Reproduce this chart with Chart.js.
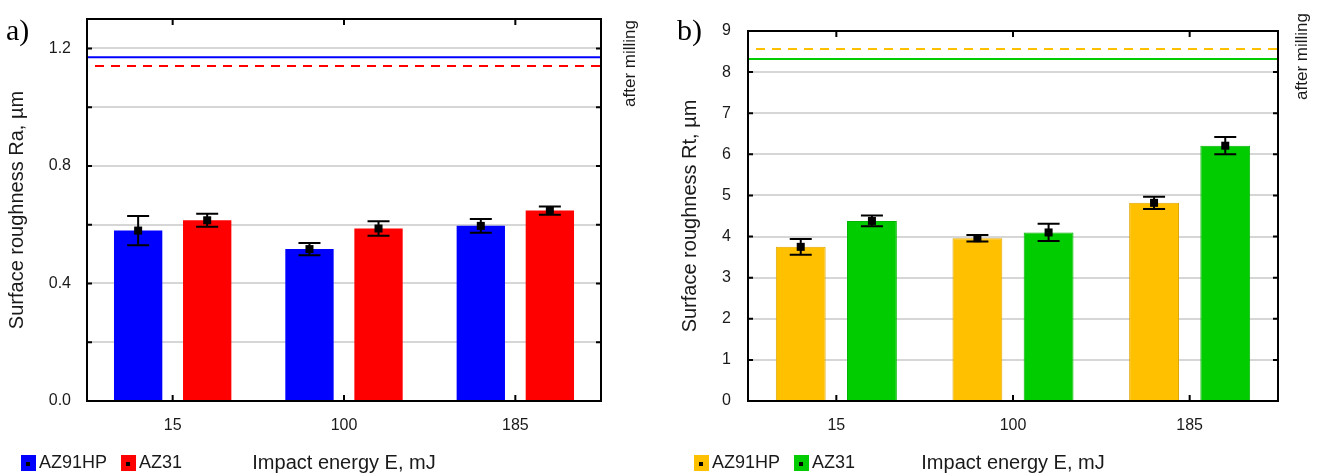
<!DOCTYPE html>
<html>
<head>
<meta charset="utf-8">
<script src="https://cdn.jsdelivr.net/npm/chart.js@4.4.1/dist/chart.umd.min.js"></script>
<style>
  body { margin: 0; background: #fff; }
  #wrap { position: relative; width: 1318px; height: 474px; }
  canvas { position: absolute; top: 0; }
  #chartA { left: 0; }
  #chartB { left: 659px; }
</style>
</head>
<body>
<div id="wrap">
  <canvas id="chartA" width="659" height="474"></canvas>
  <canvas id="chartB" width="659" height="474"></canvas>
</div>
<script>
// categories
const energies = ["15", "100", "185"];
const alloys = ["AZ91HP", "AZ31"];

// a) Ra
const raAZ91HP = [0.58, 0.517, 0.596];
const raAZ31 = [0.615, 0.587, 0.648];
const raErrAZ91HP = [0.05, 0.021, 0.023];
const raErrAZ31 = [0.022, 0.025, 0.014];
const raMilled = [1.17, 1.14]; // AZ91HP, AZ31 after milling

// b) Rt
const rtAZ91HP = [3.75, 3.96, 4.82];
const rtAZ31 = [4.38, 4.10, 6.21];
const rtErrAZ91HP = [0.19, 0.08, 0.15];
const rtErrAZ31 = [0.13, 0.21, 0.21];
const rtMilled = [8.56, 8.32];

const FONT = "'Liberation Sans', Arial, sans-serif";
Chart.defaults.font.family = FONT;
Chart.defaults.color = "#1a1a1a";

// frame round the plot + inward tick marks
const frameTicks = {
  id: "frameTicks",
  afterDatasetsDraw(chart) {
    const { ctx, chartArea: a, scales: { x, y } } = chart;
    ctx.save();
    ctx.strokeStyle = "#000";
    ctx.lineWidth = 2;
    ctx.beginPath();
    y.ticks.forEach(t => {
      const py = y.getPixelForValue(t.value);
      if (py <= a.top + 1 || py >= a.bottom - 1) return;
      ctx.moveTo(a.left, py); ctx.lineTo(a.left + 5, py);
      ctx.moveTo(a.right, py); ctx.lineTo(a.right - 5, py);
    });
    x.ticks.forEach((t, i) => {
      const px = x.getPixelForTick(i);
      ctx.moveTo(px, a.bottom); ctx.lineTo(px, a.bottom - 6);
      ctx.moveTo(px, a.top); ctx.lineTo(px, a.top + 6);
    });
    ctx.stroke();
    ctx.strokeRect(a.left, a.top, a.right - a.left, a.bottom - a.top);
    ctx.restore();
  }
};

// error bars with the mean marker
const errorBars = {
  id: "errorBars",
  afterDatasetsDraw(chart, args, opts) {
    const { ctx, scales: { y } } = chart;
    ctx.save();
    ctx.strokeStyle = "#000";
    ctx.fillStyle = "#000";
    ctx.lineWidth = 2;
    chart.data.datasets.forEach((ds, di) => {
      const meta = chart.getDatasetMeta(di);
      const errs = opts.errors[di];
      meta.data.forEach((bar, i) => {
        const v = ds.data[i];
        const top = y.getPixelForValue(v + errs[i]);
        const bot = y.getPixelForValue(v - errs[i]);
        const cx = bar.x;
        ctx.beginPath();
        ctx.moveTo(cx, top); ctx.lineTo(cx, bot);
        ctx.moveTo(cx - 11, top); ctx.lineTo(cx + 11, top);
        ctx.moveTo(cx - 11, bot); ctx.lineTo(cx + 11, bot);
        ctx.stroke();
        const my = y.getPixelForValue(v);
        ctx.fillRect(cx - 4, my - 4, 8, 8);
      });
    });
    ctx.restore();
  }
};

// "after milling" reference lines, panel letter, legend
const extras = {
  id: "extras",
  beforeDatasetsDraw(chart, args, opts) {
    const { ctx, chartArea: a, scales: { y } } = chart;
    ctx.save();
    opts.lines.forEach(l => {
      const py = y.getPixelForValue(l.value);
      ctx.strokeStyle = l.color;
      ctx.lineWidth = 2;
      ctx.setLineDash(l.dash ? [9, 7] : []);
      ctx.beginPath();
      ctx.moveTo(a.left + (l.dash ? 8 : 0), py);
      ctx.lineTo(a.right, py);
      ctx.stroke();
    });
    ctx.restore();
  },
  afterDraw(chart, args, opts) {
    const { ctx } = chart;
    ctx.save();
    ctx.fillStyle = "#1a1a1a";
    // rotated note
    ctx.translate(opts.noteX, opts.noteY);
    ctx.rotate(-Math.PI / 2);
    ctx.font = "17px " + FONT;
    ctx.textAlign = "right";
    ctx.textBaseline = "middle";
    ctx.fillText("after milling", 0, 0);
    ctx.restore();

    ctx.save();
    ctx.fillStyle = "#000";
    ctx.font = "30px 'Liberation Serif', 'Times New Roman', serif";
    ctx.textBaseline = "alphabetic";
    ctx.fillText(opts.letter, opts.letterX, 40);

    // legend
    ctx.font = "18px " + FONT;
    ctx.textBaseline = "middle";
    let lx = opts.legendX;
    const ly = 463;
    chart.data.datasets.forEach(ds => {
      ctx.fillStyle = ds.backgroundColor;
      ctx.fillRect(lx, ly - 8, 15, 16);
      ctx.fillStyle = "#000";
      ctx.fillRect(lx + 5, ly - 1, 4, 4);
      ctx.fillStyle = "#1a1a1a";
      ctx.fillText(ds.label, lx + 18, ly);
      lx += 18 + ctx.measureText(ds.label).width + 14;
    });
    ctx.restore();
  }
};

function makeChart(id, p) {
  return new Chart(document.getElementById(id), {
    type: "bar",
    data: {
      labels: energies,
      datasets: [
        { label: alloys[0], data: p.a, backgroundColor: p.colors[0], borderColor: p.borders[0], borderWidth: p.borderWidth },
        { label: alloys[1], data: p.b, backgroundColor: p.colors[1], borderColor: p.borders[1], borderWidth: p.borderWidth }
      ]
    },
    options: {
      responsive: false,
      animation: false,
      devicePixelRatio: 1,
      categoryPercentage: 0.806,
      barPercentage: 0.7,
      layout: { padding: { left: 0, top: p.top, right: p.right, bottom: 0 } },
      plugins: {
        legend: { display: false },
        tooltip: { enabled: false },
        errorBars: { errors: p.errs },
        extras: p.extras
      },
      scales: {
        x: {
          grid: { display: false, drawTicks: false },
          border: { display: false },
          ticks: { padding: 15, font: { size: 16 } },
          title: { display: true, text: "Impact energy E, mJ", font: { size: 20, lineHeight: 1 }, padding: { top: 0, bottom: 1 } },
          afterFit: s => { s.height = 73; }
        },
        y: {
          min: 0,
          max: p.max,
          grid: { color: "#d6d6d6", lineWidth: 2, drawTicks: false },
          border: { display: false },
          ticks: {
            stepSize: p.step,
            includeBounds: false,
            padding: p.tickPad,
            font: { size: 16 },
            callback: p.fmt
          },
          title: { display: true, text: p.yTitle, font: { size: 20, lineHeight: 1.2 }, padding: { top: p.titlePad, bottom: 0 } },
          afterFit: s => {
            s.width = p.left;
            s.paddingTop = 0;
            s.paddingBottom = 0;
          }
        }
      }
    },
    plugins: [extras, errorBars, frameTicks]
  });
}

makeChart("chartA", {
  a: raAZ91HP, b: raAZ31, errs: [raErrAZ91HP, raErrAZ31],
  colors: ["#0000ff", "#ff0000"], borders: ["#0000ff", "#ff0000"], borderWidth: 0,
  max: 1.3, step: 0.2, left: 87, top: 19, right: 58, tickPad: 16, titlePad: 5,
  fmt: v => (Math.abs(v / 0.4 - Math.round(v / 0.4)) < 1e-6 ? v.toFixed(1) : ""),
  yTitle: "Surface roughness Ra, µm",
  extras: {
    lines: [
      { value: raMilled[0], color: "#0000ff", dash: false },
      { value: raMilled[1], color: "#ff0000", dash: true }
    ],
    noteX: 630, noteY: 20, letter: "a)", letterX: 6, legendX: 21
  }
});

makeChart("chartB", {
  a: rtAZ91HP, b: rtAZ31, errs: [rtErrAZ91HP, rtErrAZ31],
  colors: ["#ffc000", "#00cc00"], borders: ["#e0a600", "#00b400"], borderWidth: 1,
  max: 9, step: 1, left: 89, top: 31, right: 40, tickPad: 17, titlePad: 19,
  fmt: v => String(v),
  yTitle: "Surface roughness Rt, µm",
  extras: {
    lines: [
      { value: rtMilled[0], color: "#ffc000", dash: true },
      { value: rtMilled[1], color: "#00cc00", dash: false }
    ],
    noteX: 643, noteY: 13, letter: "b)", letterX: 18, legendX: 35
  }
});
</script>
</body>
</html>
